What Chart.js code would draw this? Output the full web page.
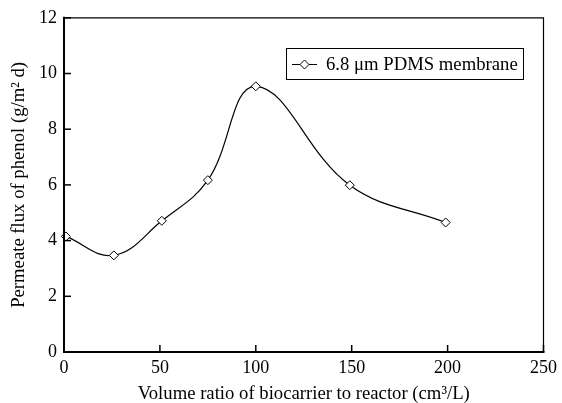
<!DOCTYPE html>
<html>
<head>
<meta charset="utf-8">
<script src="https://cdn.jsdelivr.net/npm/chart.js@4"></script>
<style>
  body { margin: 0; background: #fff; }
  #wrap { width: 562px; height: 403px; position: relative; }
</style>
</head>
<body>
<div id="wrap"><canvas id="fluxChart"></canvas></div>
<script>
// volume ratio of biocarrier (cm3/L) and permeate flux (g/m2 d)
const volumeRatio = [1, 26, 51, 75, 100, 149, 199];
const phenolFlux = [4.15, 3.47, 4.71, 6.17, 9.54, 5.99, 4.65];
const seriesLabel = '6.8 \u03bcm PDMS membrane';
const xTitle = 'Volume ratio of biocarrier to reactor (cm\u00b3/L)';
const yTitle = 'Permeate flux of phenol (g/m\u00b2 d)';

const serif = "'Liberation Serif', 'Times New Roman', serif";

function diamond(ctx, cx, cy, r) {
  ctx.beginPath();
  ctx.moveTo(cx - r, cy);
  ctx.lineTo(cx, cy - r);
  ctx.lineTo(cx + r, cy);
  ctx.lineTo(cx, cy + r);
  ctx.closePath();
  ctx.fillStyle = '#fff';
  ctx.fill();
  ctx.stroke();
}

// frame, inward ticks and the boxed legend
const framePlugin = {
  id: 'frame',
  afterDraw(chart) {
    const { ctx, chartArea: { left, right, top, bottom }, scales: { x, y } } = chart;
    ctx.save();
    ctx.strokeStyle = '#000';

    ctx.lineWidth = 1.5;
    x.ticks.forEach(t => {
      const px = x.getPixelForValue(t.value);
      ctx.beginPath();
      ctx.moveTo(px, bottom);
      ctx.lineTo(px, bottom - 7);
      ctx.stroke();
    });
    y.ticks.forEach(t => {
      const py = y.getPixelForValue(t.value);
      ctx.beginPath();
      ctx.moveTo(left, py);
      ctx.lineTo(left + 7, py);
      ctx.stroke();
    });

    ctx.lineWidth = 1.2;
    ctx.beginPath();
    ctx.moveTo(left, top);
    ctx.lineTo(right, top);
    ctx.lineTo(right, bottom);
    ctx.stroke();

    ctx.lineWidth = 2;
    ctx.beginPath();
    ctx.moveTo(left, top - 1);
    ctx.lineTo(left, bottom);
    ctx.lineTo(right + 1, bottom);
    ctx.stroke();

    // legend
    ctx.lineWidth = 1;
    ctx.strokeRect(286.5, 48.5, 237, 31);
    ctx.beginPath();
    ctx.moveTo(292, 64.5);
    ctx.lineTo(317, 64.5);
    ctx.stroke();
    diamond(ctx, 304.5, 64.5, 4.5);
    ctx.fillStyle = '#000';
    ctx.font = '18.7px ' + serif;
    ctx.textBaseline = 'middle';
    ctx.fillText(seriesLabel, 326, 65);
    ctx.restore();
  }
};

const ctx = document.getElementById('fluxChart').getContext('2d');
const chart = new Chart(ctx, {
  type: 'line',
  data: {
    datasets: [{
      label: seriesLabel,
      data: volumeRatio.map((v, i) => ({ x: v, y: phenolFlux[i] })),
      borderColor: '#000',
      borderWidth: 1.2,
      tension: 0.4,
      pointStyle: 'rectRot',
      pointRadius: 4.5,
      pointBorderWidth: 1,
      pointBorderColor: '#000',
      pointBackgroundColor: '#fff',
      fill: false,
      clip: false
    }]
  },
  options: {
    responsive: true,
    maintainAspectRatio: false,
    animation: false,
    layout: { padding: { left: 0, right: 14, top: 15, bottom: 0 } },
    plugins: {
      legend: { display: false },
      tooltip: { enabled: false }
    },
    scales: {
      x: {
        type: 'linear',
        min: 0,
        max: 250,
        ticks: { stepSize: 50, color: '#000', padding: 5, maxRotation: 0, font: { family: serif, size: 18 } },
        grid: { display: false, drawTicks: false },
        border: { display: false },
        title: { display: true, text: xTitle, color: '#000', padding: 0, font: { family: serif, size: 18.7, lineHeight: 1.0 } },
        afterFit(scale) { scale.height = 51; }
      },
      y: {
        min: 0,
        max: 12,
        ticks: { stepSize: 2, color: '#000', padding: 7, font: { family: serif, size: 18 } },
        grid: { display: false, drawTicks: false },
        border: { display: false },
        title: { display: true, text: yTitle, color: '#000', padding: { top: 8, bottom: 0 }, font: { family: serif, size: 18.7 } },
        afterFit(scale) { scale.width = 64; }
      }
    }
  },
  plugins: [framePlugin]
});
</script>
</body>
</html>
